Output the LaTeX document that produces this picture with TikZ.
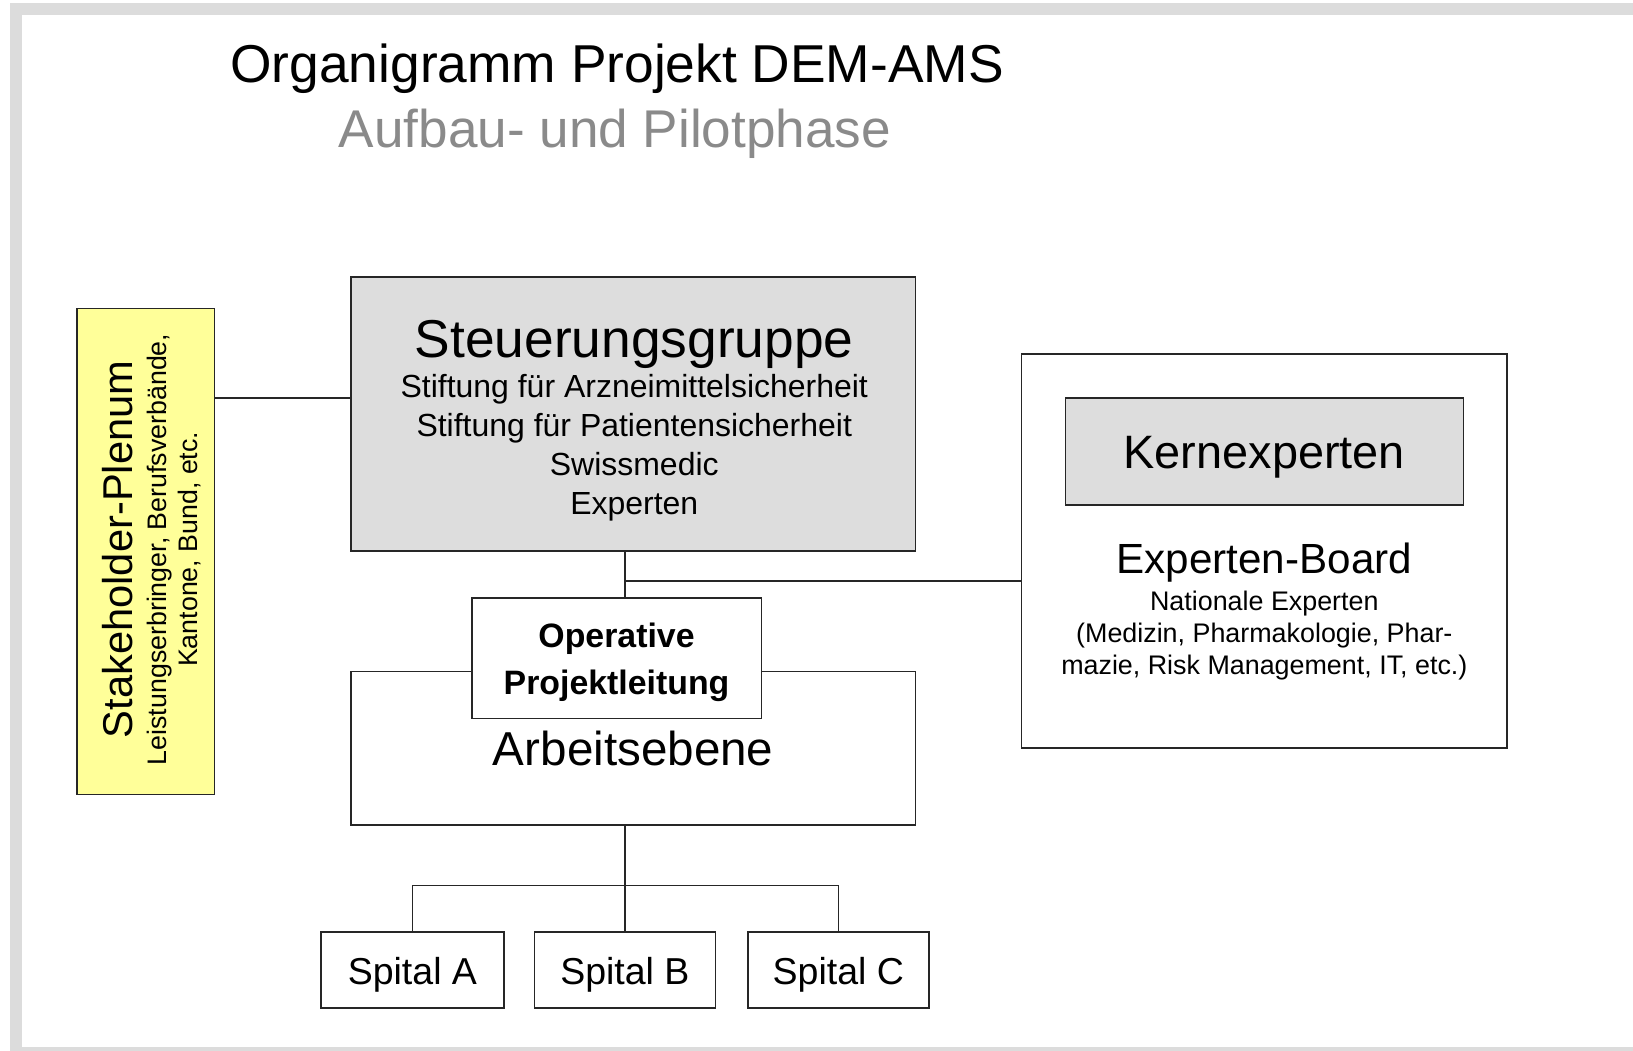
\documentclass[tikz,border=0pt]{standalone}
\usepackage{fontspec}
\setmainfont{Liberation Sans}
\definecolor{framegray}{HTML}{DCDCDC}
\definecolor{boxgray}{HTML}{DDDDDD}
\definecolor{stakeyellow}{HTML}{FFFF99}
\definecolor{subgray}{HTML}{8A8A8A}
\newcommand{\fs}[1]{\fontsize{#1}{#1}\selectfont}
\tikzset{
  box/.style={draw=black!85, line width=1.4pt, inner sep=0pt},
  conn/.style={draw=black!85, line width=1.4pt},
  lbl/.style={anchor=base, inner sep=0pt, text=black},
}
\begin{document}
\begin{tikzpicture}[x=1pt, y=-1pt]
\fill[framegray] (9.6,3.2) rectangle (1568,1009);
\fill[white] (21,14.4) rectangle (1568,1005);
\useasboundingbox (0,0) rectangle (1568,1009);

% title
\node[lbl, font=\fs{51.2}] (title) at (592.5,79) {Organigramm Projekt DEM-AMS};
\node[lbl, font=\fs{51}, text=subgray] (subtitle) at (590.5,142) {Aufbau- und Pilotphase};

% stakeholder
\node[box, fill=stakeyellow, minimum width=132pt, minimum height=467pt] (stake) at (140,529.5) {};
\node[lbl, rotate=90, font=\fs{40}] (stakeT) at (127,527.5) {Stakeholder-Plenum};
\node[lbl, rotate=90, font=\fs{25.7}] (stakeL1) at (160,527.5) {Leistungserbringer, Berufsverbände,};
\node[lbl, rotate=90, font=\fs{25.7}] (stakeL2) at (190,527.5) {Kantone, Bund, etc.};

% Steuerungsgruppe
\node[box, fill=boxgray, minimum width=542pt, minimum height=263pt] (steuer) at (608,397.5) {};
\node[lbl, font=\fs{51.2}] (steuerT) at (609,343) {Steuerungsgruppe};
\node[lbl, font=\fs{30.7}] (st1) at (609,382) {Stiftung für Arzneimittelsicherheit};
\node[lbl, font=\fs{30.7}] (st2) at (609,419) {Stiftung für Patientensicherheit};
\node[lbl, font=\fs{30.7}] (st3) at (609,457) {Swissmedic};
\node[lbl, font=\fs{30.7}] (st4) at (609,494) {Experten};

% Arbeitsebene + Operative
\node[box, fill=white, minimum width=542pt, minimum height=147pt] (arb) at (608,718.5) {};
\node[lbl, font=\fs{45.7}] (arbT) at (608,735) {Arbeitsebene};
\node[box, fill=white, minimum width=278pt, minimum height=116pt] (op) at (592,632) {};
\node[lbl, font=\bfseries\fs{32.5}] (op1) at (592,622) {Operative};
\node[lbl, font=\bfseries\fs{32.5}] (op2) at (592,667) {Projektleitung};

% Experten-Board
\node[box, fill=white, minimum width=466pt, minimum height=378pt] (board) at (1214,529) {};
\node[box, fill=boxgray, minimum width=382pt, minimum height=103pt] (kern) at (1214,433.5) {};
\node[lbl, font=\fs{45}] (kernT) at (1214,450) {Kernexperten};
\node[lbl, font=\fs{40.5}] (boardT) at (1214,551) {Experten-Board};
\node[lbl, font=\fs{25.8}] (b1) at (1214,586) {Nationale Experten};
\node[lbl, font=\fs{25.8}] (b2) at (1214,617) {(Medizin, Pharmakologie, Phar-};
\node[lbl, font=\fs{25.8}] (b3) at (1214,648) {mazie, Risk Management, IT, etc.)};

% Spitaeler
\node[box, fill=white, minimum width=176pt, minimum height=73pt] (spA) at (396,931.5) {};
\node[box, fill=white, minimum width=174pt, minimum height=73pt] (spB) at (600,931.5) {};
\node[box, fill=white, minimum width=174pt, minimum height=73pt] (spC) at (805,931.5) {};
\node[lbl, font=\fs{36}] (spAT) at (396,945) {Spital A};
\node[lbl, font=\fs{36}] (spBT) at (600,945) {Spital B};
\node[lbl, font=\fs{36}] (spCT) at (805,945) {Spital C};

% connectors
\coordinate (sl) at (0,382);
\coordinate (vx) at (600,0);
\coordinate (hy) at (0,558);
\coordinate (by) at (0,850);
\draw[conn] (stake.east |- sl) -- (steuer.west |- sl);
\draw[conn] (steuer.south -| vx) -- (op.north -| vx);
\draw[conn] (vx |- hy) -- (board.west |- hy);
\draw[conn] (arb.south -| vx) -- (spB.north);
\draw[conn] (spA.north) -- (spA.north |- by) -- (spC.north |- by) -- (spC.north);
\end{tikzpicture}
\end{document}
